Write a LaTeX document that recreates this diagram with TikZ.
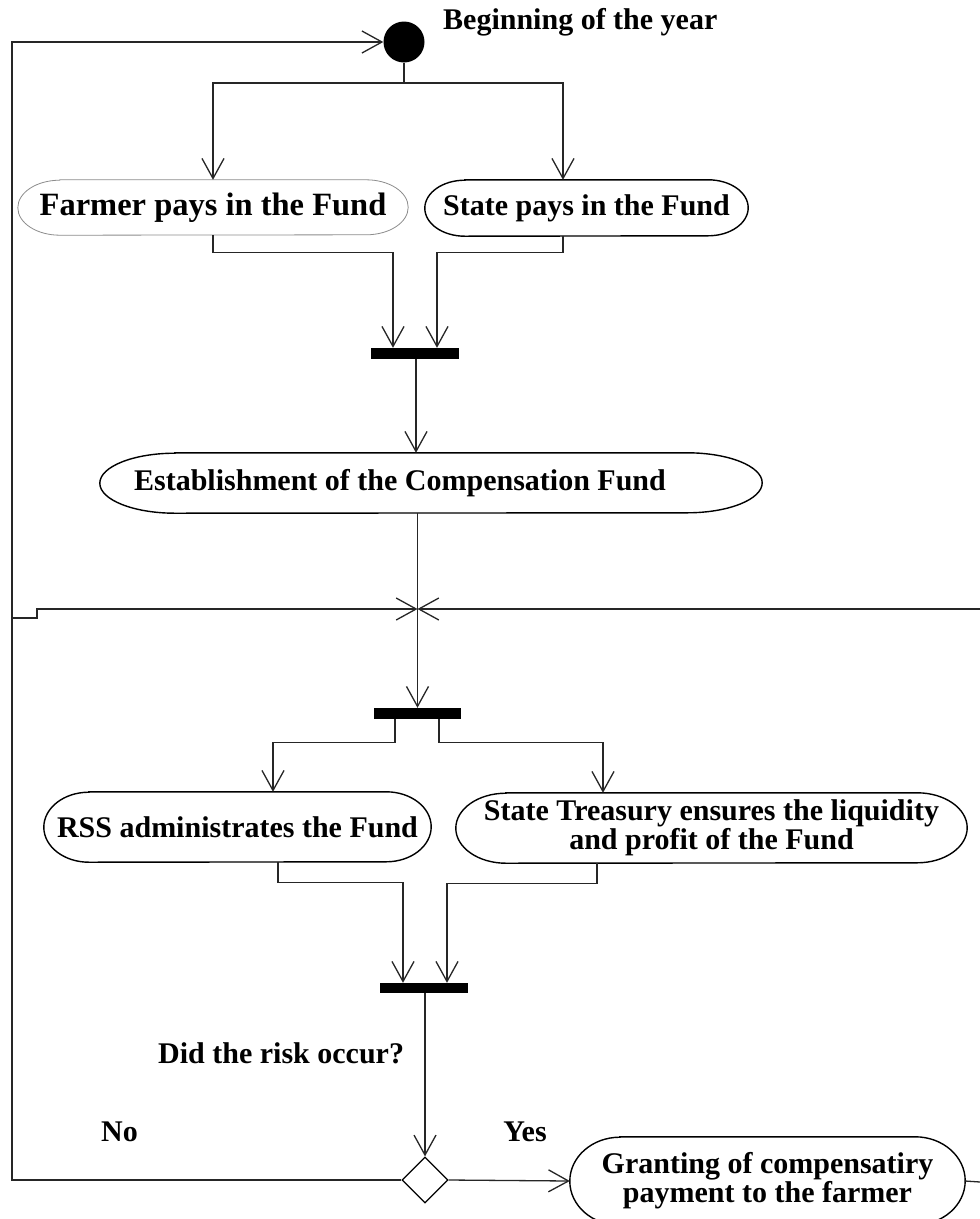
\documentclass[tikz,border=0pt]{standalone}
\usepackage{fontspec}
\setmainfont{Liberation Serif}
\usetikzlibrary{arrows.meta,shapes.geometric,calc}

% outline of an activity: straight top and bottom, half-elliptic ends
\newcommand\actoutline[4][]{%
  \draw[outline,#1] ([xshift=#3]#2.north west) -- ([xshift=-#3]#2.north east)
    arc[start angle=90, end angle=-90, x radius=#3, y radius=#4]
    -- ([xshift=#3]#2.south west)
    arc[start angle=270, end angle=90, x radius=#3, y radius=#4] -- cycle;}

\tikzset{
  x=1pt, y=1pt,
  lbl/.style={font=\fontsize{30}{27}\selectfont\bfseries, inner sep=0pt},
  act/.style={lbl, align=center, draw=none, minimum height=#1},
  outline/.style={line width=1.4pt, black},
  syncbar/.style={fill=black, draw=none, inner sep=0pt, minimum width=88, minimum height=11},
  flow/.style={line width=1.3pt, black!85},
  arr/.style={flow, -{Straight Barb[length=20pt, width=22pt, line width=1.3pt]}},
}

\begin{document}
\begin{tikzpicture}
\useasboundingbox (0,0) rectangle (980,-1219);
\fill[white] (0,0) rectangle (980,-1219);

% start of the cycle
\node[circle, fill=black, minimum width=41, minimum height=39, inner sep=0pt] (start) at (404,-42) {};
\node[lbl, anchor=west] (begin) at (443,-22) {Beginning of the year};

% payments into the fund
\node[act=55, minimum width=390, font=\fontsize{32.5}{29}\selectfont\bfseries] (farmer) at (213,-207.5) {Farmer pays in the Fund};
\node[act=56, minimum width=323] (state) at (586.5,-208) {State pays in the Fund};
\actoutline[line width=0.8pt, black!45]{farmer}{42}{27.5}
\actoutline{state}{40}{28}

\node[syncbar] (join1) at (415,-353.5) {};

\node[act=60, minimum width=662] (estab) at (431,-483)
  {\hbox{\kern-62pt Establishment of the Compensation Fund}};
\actoutline{estab}{75}{30}

\node[syncbar, minimum width=87] (fork) at (417.5,-713.5) {};

% administration of the fund
\node[act=70, minimum width=387] (rss) at (237.5,-827) {RSS administrates the Fund};
\node[act=70, minimum width=511] (treasury) at (711.5,-828)
  {State Treasury ensures the liquidity\\and profit of the Fund};
\actoutline{rss}{45}{35}
\actoutline{treasury}{50}{35}

\node[syncbar, minimum height=10] (join2) at (424,-988) {};

\node[lbl, anchor=west] (question) at (158,-1053) {Did the risk occur?};
\node[diamond, draw, line width=1.2pt, minimum width=46, minimum height=46,
      inner sep=0pt, aspect=1] (decide) at (425,-1180) {};
\node[lbl] (no) at (119.5,-1132) {No};
\node[lbl] (yes) at (525,-1132) {Yes};

\node[act=88, minimum width=395] (grant) at (767.5,-1181)
  {Granting of compensatiry\\payment to the farmer};
\actoutline{grant}{50}{44}

% helper points of the connectors
\coordinate (split) at (404,-83);
\coordinate (cornerL) at (12,-1180);
\coordinate (jL) at (12,-618);
\coordinate (loopR) at (980,-609);
\coordinate (cross) at (fork.north |- loopR);
\coordinate (exitR) at (980,-1182);

% start splits to both payments
\draw[flow] (start.south) -- (split);
\draw[arr] (split) -| (farmer.north);
\draw[arr] (split) -| ([xshift=-23.5]state.north);

% payments join
\draw[arr] (farmer.south) -- ++(0,-17) -| ([xshift=-22]join1.north);
\draw[arr] ([xshift=-23.5]state.south) -- ++(0,-16) -| ([xshift=22]join1.north);
\draw[arr] ([xshift=1]join1.south) -- ([xshift=1]join1.south |- estab.north);

% fund to the administration fork
\draw[arr] (estab.south -| fork.north) -- (fork.north);
\draw[arr] ([xshift=-22.5]fork.south) -- ++(0,-23) -| ([xshift=35.5]rss.north);
\draw[arr] ([xshift=21.5]fork.south) -- ++(0,-23) -| ([xshift=-108.5]treasury.north);

% administration joins
\draw[arr] ([xshift=40.5]rss.south) -- ++(0,-20) -| ([xshift=-21]join2.north);
\draw[arr] ([xshift=-114.5]treasury.south) -- ++(0,-20) -| ([xshift=23]join2.north);
\draw[arr] ([xshift=1]join2.south) -- (decide.north);

% decision
\draw[arr] (decide.east) -- (grant.west);
\draw[flow] (grant.east) -- (exitR);
\draw[arr] (decide.west) -- (cornerL) |- (start.west);

% return branches meeting the main flow
\draw[arr] (jL) -- ++(25,0) -- ++(0,9) -- (cross);
\draw[arr] (loopR) -- (cross);
\end{tikzpicture}
\end{document}
